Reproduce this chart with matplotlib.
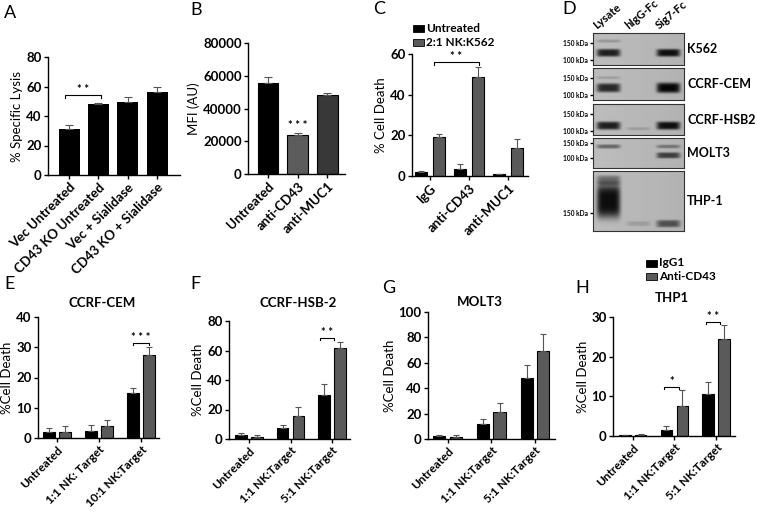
import numpy as np
import matplotlib
matplotlib.use("Agg")
import matplotlib.pyplot as plt
from matplotlib.patches import Rectangle

plt.rcParams['font.family'] = ['Lato', 'DejaVu Sans']
plt.rcParams['font.size'] = 9
plt.rcParams['font.weight'] = 'bold'
plt.rcParams['axes.linewidth'] = 1.0

W, H = 757, 512

# ---- data ----
a_labels = ["Vec Untreated", "CD43 KO Untreated", "Vec + Sialidase", "CD43 KO + Sialidase"]
a_vals = [31, 48, 49.5, 56]
a_err = [3, 1, 3.5, 4]

b_labels = ["Untreated", "anti-CD43", "anti-MUC1"]
b_vals = [55500, 24000, 48000]
b_err = [4000, 800, 1500]
b_colors = ["#000000", "#5c5c5c", "#383838"]

c_labels = ["IgG", "anti-CD43", "anti-MUC1"]
c_untreated = [2.0, 3.5, 0.8]
c_untreated_err = [0.5, 2.5, 0.3]
c_nk = [19, 48.5, 14]
c_nk_err = [1.5, 5, 4]

e_labels = ["Untreated", "1:1 NK: Target", "10:1 NK:Target"]
e_igg = [2.0, 2.3, 15]
e_igg_err = [1.3, 2.0, 1.5]
e_cd43 = [2.0, 4.0, 27.5]
e_cd43_err = [2.0, 2.0, 2.5]

f_labels = ["Untreated", "1:1 NK:Target", "5:1 NK:Target"]
f_igg = [2.5, 7.5, 30]
f_igg_err = [1.5, 2.0, 7.5]
f_cd43 = [1.2, 15.5, 62]
f_cd43_err = [1.5, 6.0, 4.0]

g_labels = ["Untreated", "1:1 NK:Target", "5:1 NK:Target"]
g_igg = [2.0, 12, 48]
g_igg_err = [1.5, 4, 10]
g_cd43 = [1.5, 21, 69]
g_cd43_err = [1.5, 7, 14]

h_labels = ["Untreated", "1:1 NK:Target", "5:1 NK:Target"]
h_igg = [0.2, 1.5, 10.5]
h_igg_err = [0.1, 1.0, 3.0]
h_cd43 = [0.3, 7.5, 24.5]
h_cd43_err = [0.2, 4.0, 3.5]

blot_lanes = ["Lysate", "hIgG-Fc", "Sig7-Fc"]
blot_rows = ["K562", "CCRF-CEM", "CCRF-HSB2", "MOLT3", "THP-1"]
# bands: (lane, y centre as fraction of blot height from top, half thickness, darkness)
blot_bands = [
    [(0, 0.62, 0.12, 0.85), (0, 0.25, 0.05, 0.2), (2, 0.62, 0.12, 0.9)],
    [(0, 0.62, 0.14, 0.8), (0, 0.3, 0.05, 0.15), (2, 0.62, 0.16, 0.95)],
    [(0, 0.7, 0.13, 0.85), (1, 0.8, 0.05, 0.15), (2, 0.7, 0.13, 0.9)],
    [(0, 0.28, 0.07, 0.45), (2, 0.28, 0.06, 0.35), (2, 0.58, 0.1, 0.65)],
    [(0, 0.5, 0.28, 0.95), (0, 0.15, 0.08, 0.4), (1, 0.88, 0.04, 0.15), (2, 0.88, 0.06, 0.55)],
]
blot_ticks = [[("150 kDa", 0.3), ("100 kDa", 0.85)],
              [("150 kDa", 0.3), ("100 kDa", 0.85)],
              [("150 kDa", 0.33), ("100 kDa", 0.87)],
              [("150 kDa", 0.17), ("100 kDa", 0.68)],
              [("150 kDa", 0.7)]]
blot_y = [(33, 65), (68, 100), (104, 135), (138, 168), (171, 231)]

fig = plt.figure(figsize=(W / 100, H / 100), dpi=100)


def box(x0, y0, x1, y1):
    ax = fig.add_axes([x0 / W, 1 - y1 / H, (x1 - x0) / W, (y1 - y0) / H])
    ax.spines['top'].set_visible(False)
    ax.spines['right'].set_visible(False)
    ax.tick_params(direction='out', length=3, width=1, labelsize=9.5, pad=1.5)
    return ax


def bracket(ax, x1, x2, y, d, text, fs=8):
    ax.plot([x1, x1, x2, x2], [y - d, y, y, y - d], color='black', lw=0.8, clip_on=False)
    ax.text((x1 + x2) / 2, y, text, ha='center', va='bottom', fontsize=fs, fontweight='bold')


def letter(x, y, s):
    fig.text(x / W, 1 - y / H, s, fontsize=13, fontweight='normal', ha='left', va='top')


def legend_box(x, y, color, text):
    fig.patches.append(Rectangle((x / W, 1 - (y + 3.5) / H), 11 / W, 7 / H, transform=fig.transFigure,
                                 facecolor=color, edgecolor='black', lw=0.6))
    fig.text((x + 13) / W, 1 - y / H, text, fontsize=8.5, ha='left', va='center')


def grouped(ax, labels, v1, e1, v2, e2, ymax, step, off=0.19, w=0.28):
    x = np.arange(len(labels))
    ax.bar(x - off, v1, w, color='black', edgecolor='black', lw=0.8)
    ax.bar(x + off, v2, w, color='#5a5a5a', edgecolor='black', lw=0.8)
    for xs, v, e in [(x - off, v1, e1), (x + off, v2, e2)]:
        ax.errorbar(xs, v, yerr=[np.zeros(len(v)), e], fmt='none', ecolor='#555555',
                    elinewidth=0.8, capsize=2.5, capthick=0.8)
    ax.set_ylim(0, ymax)
    ax.set_yticks(np.arange(0, ymax + 1, step))
    ax.set_xticks(x)
    ax.set_xticklabels(labels, rotation=45, ha='right', rotation_mode='anchor', fontsize=8.5)
    ax.set_ylabel("%Cell Death", fontsize=9.5, labelpad=2)
    return x


# ---- A ----
ax = box(48, 57, 180, 175)
x = np.arange(4)
ax.bar(x, a_vals, 0.72, color='black')
ax.errorbar(x, a_vals, yerr=[np.zeros(4), a_err], fmt='none', ecolor='#555555', elinewidth=0.8, capsize=3, capthick=0.8)
ax.set_xlim(-0.72, 3.78)
ax.set_ylim(0, 80)
ax.set_yticks([0, 20, 40, 60, 80])
ax.set_xticks(x)
ax.set_xticklabels(a_labels, rotation=45, ha='right', rotation_mode='anchor', fontsize=9.5)
ax.set_ylabel("% Specific Lysis", fontsize=9.5, labelpad=2)
bracket(ax, -0.15, 1.1, 54, 1.5, "* *")
letter(4, 5, "A")

# ---- B ----
ax = box(248, 43, 345, 174)
x = np.arange(3)
ax.bar(x, b_vals, 0.7, color=b_colors, edgecolor='black', lw=0.8)
ax.errorbar(x, b_vals, yerr=[np.zeros(3), b_err], fmt='none', ecolor='#555555', elinewidth=0.8, capsize=3, capthick=0.8)
ax.set_xlim(-0.68, 2.6)
ax.set_ylim(0, 80000)
ax.set_yticks([0, 20000, 40000, 60000, 80000])
ax.set_xticks(x)
ax.set_xticklabels(b_labels, rotation=45, ha='right', rotation_mode='anchor', fontsize=9.5)
ax.set_ylabel("MFI (AU)", fontsize=9.5, labelpad=2)
ax.text(1, 26500, "* * *", ha='center', va='bottom', fontsize=8, fontweight='bold')
letter(190, 2, "B")

# ---- C ----
ax = box(412, 54, 528, 176)
x = np.arange(3)
ax.bar(x - 0.23, c_untreated, 0.3, color='black', edgecolor='black', lw=0.8)
ax.bar(x + 0.23, c_nk, 0.3, color='#5a5a5a', edgecolor='black', lw=0.8)
for xs, v, e in [(x - 0.23, c_untreated, c_untreated_err), (x + 0.23, c_nk, c_nk_err)]:
    ax.errorbar(xs, v, yerr=[np.zeros(3), e], fmt='none', ecolor='#555555', elinewidth=0.8, capsize=2.5, capthick=0.8)
ax.set_xlim(-0.46, 2.51)
ax.set_ylim(0, 60)
ax.set_yticks([0, 20, 40, 60])
ax.set_xticks(x)
ax.set_xticklabels(c_labels, rotation=45, ha='right', rotation_mode='anchor', fontsize=9.5)
ax.set_ylabel("% Cell Death", fontsize=9.5, labelpad=2)
bracket(ax, 0.1, 1.25, 56, 1.2, "* *")
legend_box(413, 28, 'black', "Untreated")
legend_box(413, 42, '#5a5a5a', "2:1 NK:K562")
letter(373, 1, "C")

# ---- D (blots) ----
letter(562, 1, "D")
lane_x = [598, 630, 661]
for name, lx in zip(blot_lanes, lane_x):
    fig.text(lx / W, 1 - 31 / H, name, rotation=40, fontsize=8, ha='left', va='bottom',
             rotation_mode='anchor')
for row, bands, ticks, (y0, y1) in zip(blot_rows, blot_bands, blot_ticks, blot_y):
    bx = fig.add_axes([593 / W, 1 - y1 / H, (684 - 593) / W, (y1 - y0) / H])
    nh, nw = (y1 - y0) * 3, 91 * 3
    yy = np.linspace(0, 1, nh)[:, None]
    xx = np.linspace(0, 1, nw)[None, :]
    img = 0.74 - 0.04 * xx + 0 * yy
    for lane, yc, hw, dark in bands:
        lc = [0.17, 0.5, 0.83][lane]
        prof_x = np.exp(-((xx - lc) / 0.13) ** 6)
        prof_y = np.exp(-((yy - yc) / hw) ** 4)
        img = img - dark * 0.72 * prof_x * prof_y
    bx.imshow(np.clip(img, 0, 1), cmap='gray', vmin=0, vmax=1, aspect='auto', extent=[0, 1, 1, 0])
    bx.set_xlim(0, 1)
    bx.set_ylim(1, 0)
    bx.set_xticks([])
    bx.set_yticks([t[1] for t in ticks])
    bx.set_yticklabels([t[0] for t in ticks], fontsize=4.8, fontweight='bold')
    bx.tick_params(axis='y', length=2.5, width=1, pad=1)
    for s in bx.spines.values():
        s.set_color('#333333')
        s.set_linewidth(0.8)
    fig.text(687 / W, 1 - ((y0 + y1) / 2) / H, row, fontsize=9, ha='left', va='center')

# ---- E ----
ax = box(38, 317, 159, 438)
grouped(ax, e_labels, e_igg, e_igg_err, e_cd43, e_cd43_err, 40, 10)
ax.set_xlim(-0.45, 2.43)
bracket(ax, 1.81, 2.19, 31.5, 0.8, "* * *")
fig.text(102 / W, 1 - 303 / H, "CCRF-CEM", ha='center', va='center', fontsize=9.5)
letter(4, 276, "E")

# ---- F ----
ax = box(229, 321, 350, 439)
grouped(ax, f_labels, f_igg, f_igg_err, f_cd43, f_cd43_err, 80, 20)
ax.set_xlim(-0.48, 2.43)
bracket(ax, 1.71, 2.05, 68.5, 1.6, "* *")
fig.text(298 / W, 1 - 303 / H, "CCRF-HSB-2", ha='center', va='center', fontsize=9.5)
letter(190, 276, "F")

# ---- G ----
ax = box(428, 312, 555, 439)
grouped(ax, g_labels, g_igg, g_igg_err, g_cd43, g_cd43_err, 100, 20)
ax.set_xlim(-0.45, 2.46)
fig.text(480 / W, 1 - 302 / H, "MOLT3", ha='center', va='center', fontsize=9.5)
letter(382, 280, "G")

# ---- H ----
ax = box(613, 317, 735, 436)
grouped(ax, h_labels, h_igg, h_igg_err, h_cd43, h_cd43_err, 30, 10)
ax.set_xlim(-0.47, 2.45)
bracket(ax, 0.75, 1.11, 12.4, 0.5, "*")
bracket(ax, 1.75, 2.1, 28.8, 0.5, "* *")
fig.text(672 / W, 1 - 298 / H, "THP1", ha='center', va='center', fontsize=9.5)
letter(575, 280, "H")

legend_box(646, 263, 'black', "IgG1")
legend_box(646, 276, '#5a5a5a', "Anti-CD43")

fig.savefig("out.png", dpi=100, facecolor='white')
